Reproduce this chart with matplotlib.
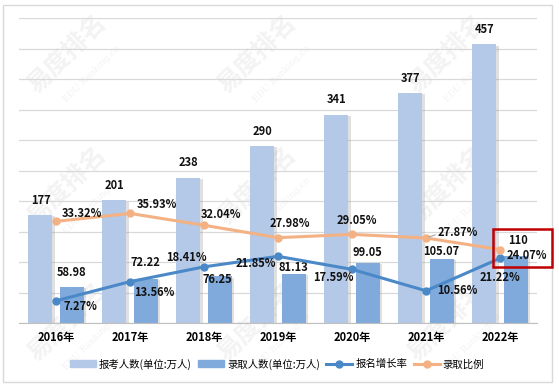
import matplotlib
matplotlib.use("Agg")
import matplotlib.pyplot as plt
import matplotlib.patheffects as pe
from matplotlib.patches import Rectangle
from matplotlib.lines import Line2D
from matplotlib.patches import Patch
import numpy as np

plt.rcParams['font.family'] = ['Noto Sans CJK SC', 'DejaVu Sans']

years = ['2016年', '2017年', '2018年', '2019年', '2020年', '2021年', '2022年']
applicants = [177, 201, 238, 290, 341, 377, 457]
admitted = [58.98, 72.22, 76.25, 81.13, 99.05, 105.07, 110]
growth = [7.27, 13.56, 18.41, 21.85, 17.59, 10.56, 21.22]
ratio = [33.32, 35.93, 32.04, 27.98, 29.05, 27.87, 24.07]

c_light = '#B4C8E7'
c_dark = '#80AADB'
c_blue = '#4A88C8'
c_orange = '#F4B183'

fig = plt.figure(figsize=(5.59, 3.88), dpi=100)

# watermark (behind everything)
for (wx, wy) in [(0.12, 0.86), (0.46, 0.86), (0.80, 0.86), (0.12, 0.52), (0.46, 0.52), (0.80, 0.52),
                 (0.12, 0.17), (0.46, 0.17), (0.80, 0.17)]:
    fig.text(wx, wy, '易度排名', fontsize=18, color='#A0A0A0', alpha=0.13, rotation=45,
             ha='center', va='center', fontweight='bold', zorder=-5)
    fig.text(wx + 0.045, wy - 0.05, 'EDU Ranking.cn', fontsize=6.5, color='#A0A0A0', alpha=0.13,
             rotation=45, ha='center', va='center', family=['DejaVu Serif'], zorder=-5)

ax = fig.add_axes([19/559, 1-323/388, (537-19)/559, (323-18)/388])
ax.patch.set_alpha(0)
ax2 = ax.twinx()

x = np.arange(len(years))
w = 0.325
off = 0.21
shadow = [pe.SimplePatchShadow(offset=(2, -1), shadow_rgbFace='#9A9A9A', alpha=0.3), pe.Normal()]
ax.bar(x - off, applicants, w, color=c_light, zorder=2, path_effects=shadow)
ax.bar(x + off, admitted, w, color=c_dark, zorder=2, path_effects=shadow)

ax.set_xlim(-0.5, len(years) - 0.5)
ax.set_ylim(0, 500)
ax.set_yticks(np.arange(0, 501, 50))
ax.yaxis.grid(True, color='#D9D9D9', linewidth=0.9, zorder=0)
ax.set_axisbelow(True)
ax.tick_params(axis='y', left=False, labelleft=False)
ax.tick_params(axis='x', length=0, pad=6)
ax.set_xticks(x)
ax.set_xticklabels(years, fontsize=8, fontweight='bold')
for s in ['top', 'right', 'left']:
    ax.spines[s].set_visible(False)
ax.spines['bottom'].set_color('#BFBFBF')

ax2.set_ylim(0, 100)
ax2.axis('off')
ax2.plot(x, growth, color=c_blue, lw=2.2, marker='o', ms=5, zorder=3)
ax2.plot(x, ratio, color=c_orange, lw=2.2, marker='o', ms=5, zorder=3)

lab_kw = dict(fontsize=8, fontweight='bold', ha='center', va='center', color='#111111',
              textcoords='offset pixels', zorder=5)

for i, v in enumerate(applicants):
    ax.annotate(f'{v}', (x[i] - off, v), xytext=(0, 15), **lab_kw)

adm_off = [(0, 15), (0, 16), (-2, -3), (0, 6), (0, 10), (0, 7), (2, 15)]
for i, v in enumerate(admitted):
    ax.annotate(f'{v:g}', (x[i] + off, v), xytext=adm_off[i], **lab_kw)

gr_off = [(24, -6), (24, -11), (-18, 9), (-22, -7), (-19, -8), (31, 0), (0, -19)]
for i, v in enumerate(growth):
    ax2.annotate(f'{v:.2f}%', (x[i], v), xytext=gr_off[i], **lab_kw)

ra_off = [(26, 8), (27, 9), (17, 11), (12, 14), (5, 14), (32, 5), (27, -6)]
for i, v in enumerate(ratio):
    ax2.annotate(f'{v:.2f}%', (x[i], v), xytext=ra_off[i], **lab_kw)
# leader line for 2021 ratio label
ax2.annotate('', (x[5], ratio[5]), xytext=(12, 4), textcoords='offset pixels',
             arrowprops=dict(arrowstyle='-', color='#A6A6A6', lw=0.8), zorder=4)

# red highlight box
fig.patches.append(Rectangle((493/559, 1-267/388), 59/559, 38/388, transform=fig.transFigure,
                             fill=False, edgecolor='#C00000', lw=1.8, zorder=10))
# outer border
fig.patches.append(Rectangle((3/559, 1-382/388), 549/559, 377/388, transform=fig.transFigure,
                             fill=False, edgecolor='#D9D9D9', lw=1.0, zorder=0))

handles = [Patch(color=c_light), Patch(color=c_dark),
           Line2D([], [], color=c_blue, lw=2.2, marker='o', ms=5),
           Line2D([], [], color=c_orange, lw=2.2, marker='o', ms=5)]
labels = ['报考人数(单位:万人)', '录取人数(单位:万人)', '报名增长率', '录取比例']
fig.legend(handles, labels, loc='center', bbox_to_anchor=(277/559, 1-364/388), ncol=4,
           frameon=False, fontsize=7.5, handlelength=2.5, handleheight=0.6, columnspacing=0.6,
           handletextpad=0.3)

fig.savefig('out.png', dpi=100)
